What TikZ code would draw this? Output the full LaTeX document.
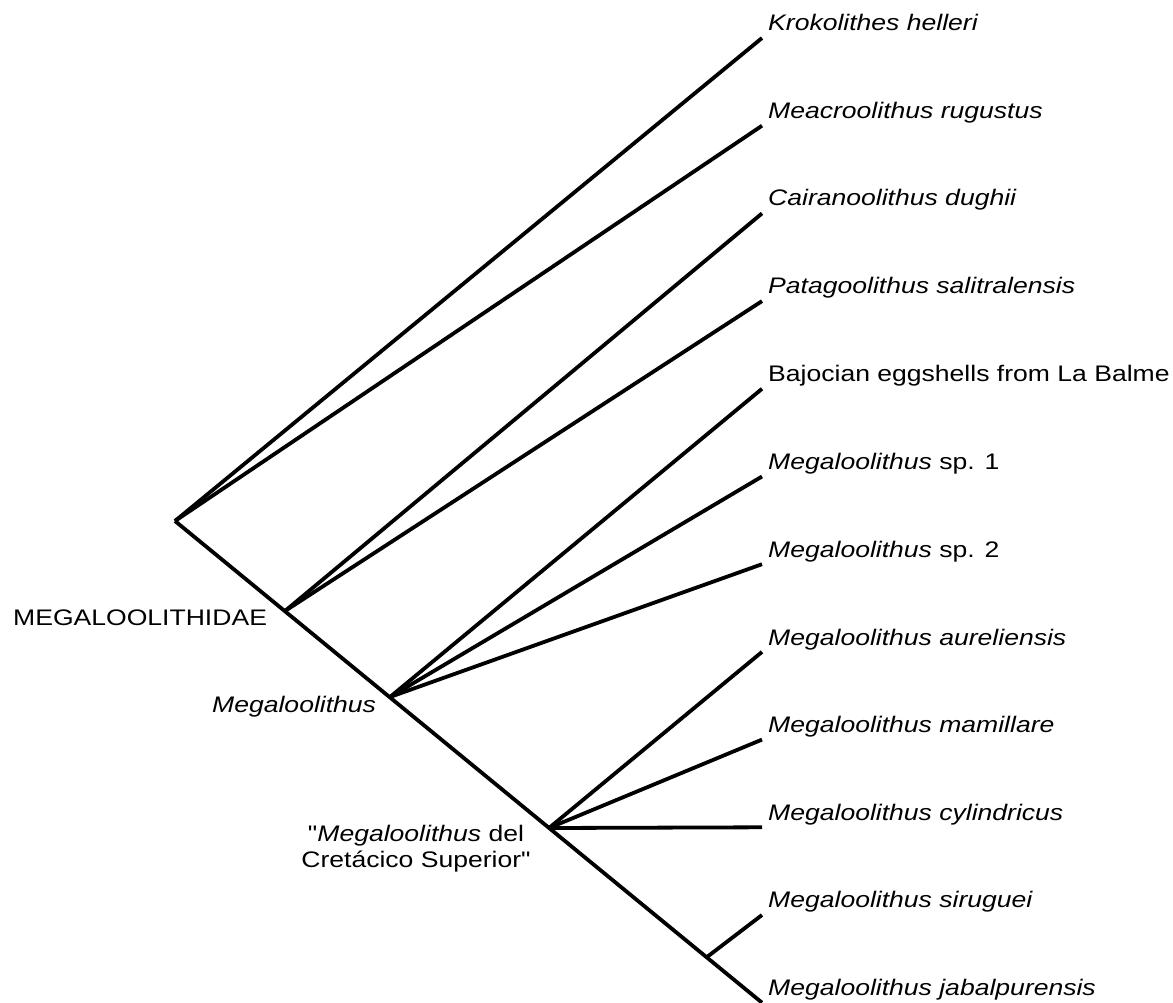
\documentclass[tikz,border=0pt]{standalone}
\usepackage{fontspec}
\setmainfont{Liberation Sans}[FakeStretch=1.18, Ligatures=TeXOff]
\begin{document}
\begin{tikzpicture}[x=1pt,y=-1pt,
  br/.style={line width=3.8pt, line cap=butt, black},
  lab/.style={anchor=base west, inner sep=0pt, font=\fontsize{22.5}{27}\selectfont},
  clab/.style={inner sep=0pt, font=\fontsize{22.5}{26}\selectfont}]
\useasboundingbox[fill=white] (0,0) rectangle (1173,1003);
% internal nodes
\coordinate (root) at (175,521);
\coordinate (n2) at (285,611);
\coordinate (n3) at (390,697);
\coordinate (n4) at (549,828);
\coordinate (n5) at (707,957);
% tips
\foreach \i in {1,...,12}{
  \coordinate (t\i) at (762,{38+87.7*(\i-1)});
}
% branches
\draw[br] (root) -- (t1);
\draw[br] (root) -- (t2);
\draw[br] (root) -- (t12);
\draw[br] (n2) -- (t3);
\draw[br] (n2) -- (t4);
\draw[br] (n3) -- (t5);
\draw[br] (n3) -- (t6);
\draw[br] (n3) -- (t7);
\draw[br] (n4) -- (t8);
\draw[br] (n4) -- (t9);
\draw[br] (n4) -- (t10);
\draw[br] (n5) -- (t11);
% tip labels
\node[lab] (l1) at (768,31) {\textit{Krokolithes helleri}};
\node[lab] (l2) at (768,119) {\textit{Meacroolithus rugustus}};
\node[lab] (l3) at (768,206) {\textit{Cairanoolithus dughii}};
\node[lab] (l4) at (768,294) {\textit{Patagoolithus salitralensis}};
\node[lab] (l5) at (768,381) {Bajocian eggshells from La Balme};
\node[lab] (l6) at (768,469) {\textit{Megaloolithus} sp. 1};
\node[lab] (l7) at (768,557) {\textit{Megaloolithus} sp. 2};
\node[lab] (l8) at (768,645) {\textit{Megaloolithus aureliensis}};
\node[lab] (l9) at (768,732) {\textit{Megaloolithus mamillare}};
\node[lab] (l10) at (768,820) {\textit{Megaloolithus cylindricus}};
\node[lab] (l11) at (768,907) {\textit{Megaloolithus siruguei}};
\node[lab] (l12) at (768,995) {\textit{Megaloolithus jabalpurensis}};
% clade labels
\node[lab] (c1) at (13,625) {MEGALOOLITHIDAE};
\node[lab] (c2) at (212,712) {\textit{Megaloolithus}};
\node[clab, align=center] (c3) at (416,849) {"\textit{Megaloolithus} del\\Cretácico Superior"};
\end{tikzpicture}
\end{document}
